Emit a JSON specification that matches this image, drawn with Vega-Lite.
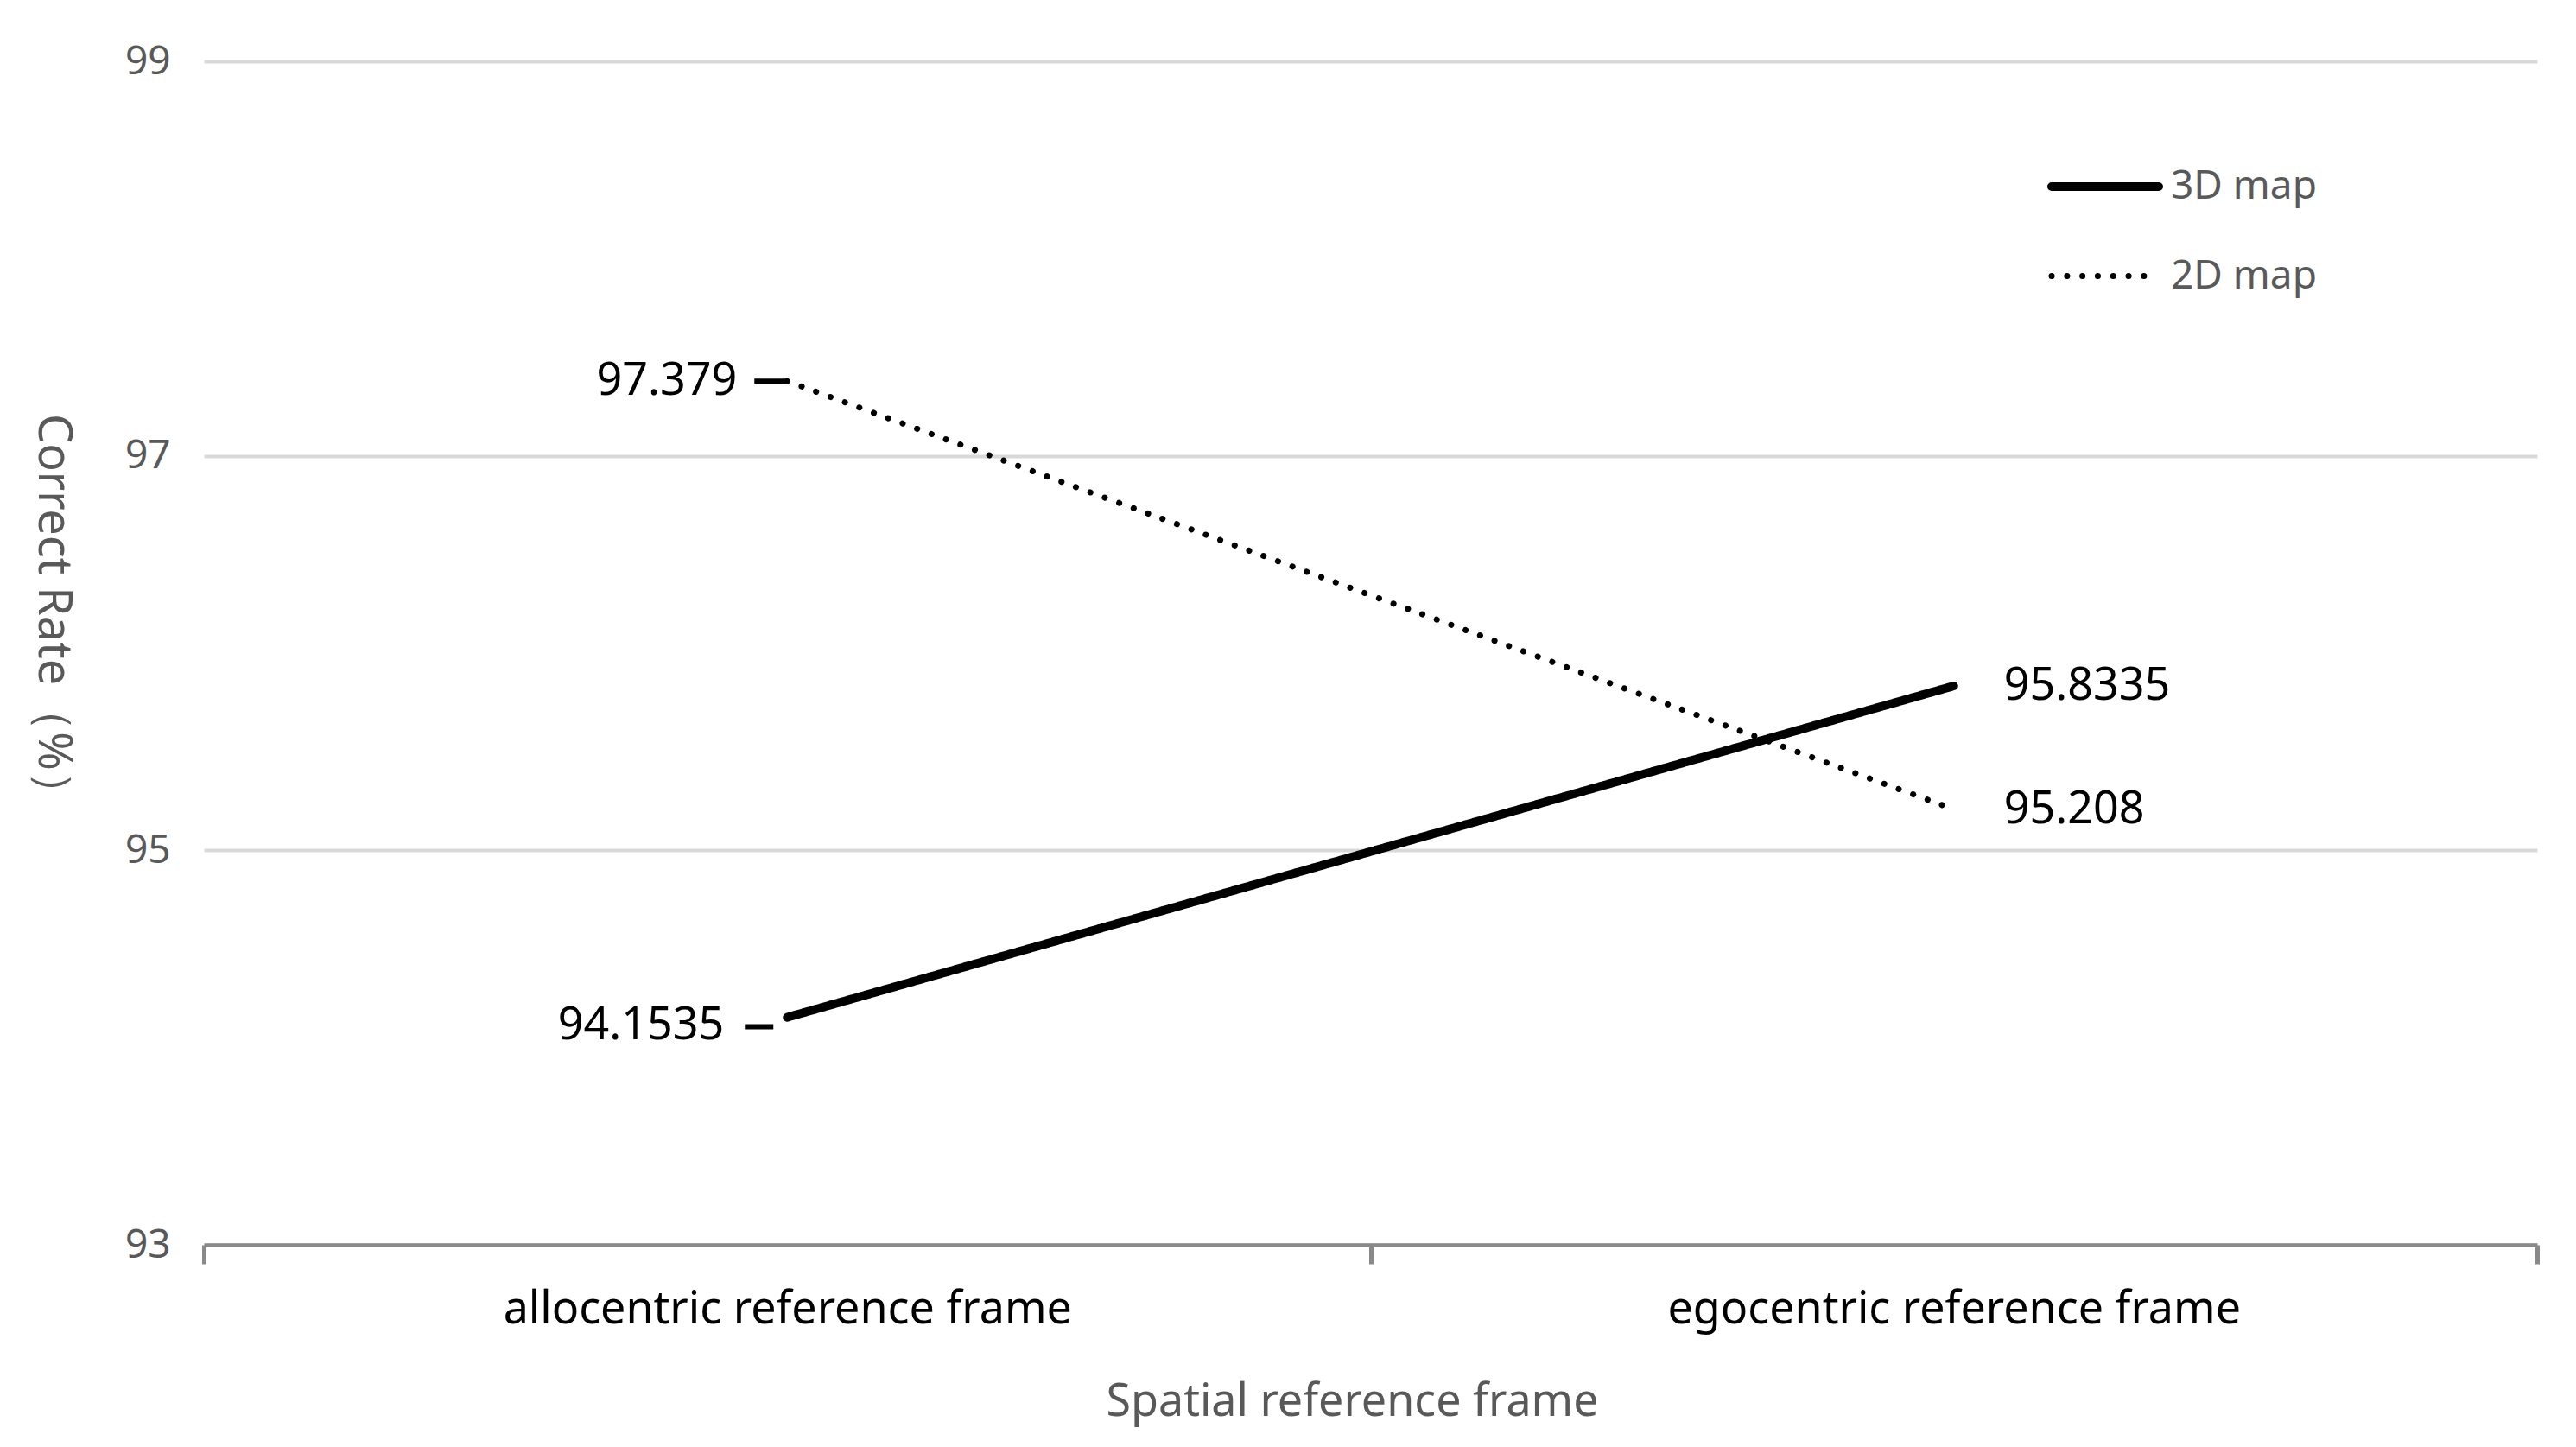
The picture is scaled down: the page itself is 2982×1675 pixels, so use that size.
{
  "$schema": "https://vega.github.io/schema/vega-lite/v6.json",
  "autosize": {"type": "none"},
  "width": 2701,
  "height": 1370,
  "padding": {"left": 236, "top": 71, "right": 45, "bottom": 234},
  "background": "white",
  "config": {
    "font": "Noto Sans",
    "view": {"stroke": null}
  },
  "data": {
    "values": [
      {"frame": "allocentric reference frame", "map": "3D map", "rate": 94.1535},
      {"frame": "egocentric reference frame", "map": "3D map", "rate": 95.8335},
      {"frame": "allocentric reference frame", "map": "2D map", "rate": 97.379},
      {"frame": "egocentric reference frame", "map": "2D map", "rate": 95.208}
    ]
  },
  "encoding": {
    "x": {
      "field": "frame",
      "type": "nominal",
      "sort": ["allocentric reference frame", "egocentric reference frame"],
      "scale": {"type": "band", "paddingInner": 0, "paddingOuter": 0},
      "axis": {
        "title": "Spatial reference frame",
        "labelAngle": 0,
        "labelLimit": 0,
        "tickBand": "extent",
        "tickSize": 22,
        "tickWidth": 5,
        "tickColor": "#898989",
        "domainColor": "#898989",
        "domainWidth": 4.5,
        "labelColor": "#000000",
        "labelFontSize": 52,
        "labelPadding": 27,
        "labelBaseline": "top",
        "grid": false,
        "titleColor": "#595959",
        "titleFontSize": 52,
        "titleFontWeight": "normal",
        "titleX": 1329,
        "titleY": 181,
        "titleAlign": "center",
        "titleBaseline": "middle"
      }
    },
    "y": {
      "field": "rate",
      "type": "quantitative",
      "scale": {"domain": [93, 99], "nice": false, "zero": false},
      "axis": {
        "title": "Correct Rate（%）",
        "values": [93, 95, 97, 99],
        "grid": true,
        "gridColor": "#d9d9d9",
        "gridWidth": 4,
        "domain": false,
        "ticks": false,
        "tickSize": 0,
        "labelPadding": 39,
        "labelFontSize": 46,
        "labelColor": "#595959",
        "titleAngle": 90,
        "titleX": -176,
        "titleY": 641,
        "titleAlign": "center",
        "titleBaseline": "middle",
        "titleColor": "#595959",
        "titleFontSize": 54,
        "titleFontWeight": "normal",
        "titleLimit": 0
      }
    }
  },
  "layer": [
    {
      "mark": {"type": "line", "color": "#000000", "strokeCap": "round"},
      "encoding": {
        "strokeDash": {
          "field": "map",
          "type": "nominal",
          "scale": {"domain": ["3D map", "2D map"], "range": [[1, 0], [0.1, 17.7]]},
          "legend": {
            "title": null,
            "orient": "none",
            "legendX": 2134,
            "legendY": 78,
            "symbolType": "stroke",
            "symbolSize": 15376,
            "symbolStrokeWidth": 12,
            "symbolStrokeColor": "#000000",
            "rowPadding": 15,
            "labelOffset": 9,
            "labelLimit": 0,
            "labelFontSize": 46,
            "labelColor": "#595959",
            "encode": {
              "symbols": {
                "update": {
                  "strokeCap": {"value": "round"},
                  "strokeDash": {"signal": "datum.value === '2D map' ? [0.1, 26.5] : [1, 0]"}
                }
              }
            }
          }
        },
        "strokeWidth": {
          "field": "map",
          "type": "nominal",
          "scale": {"domain": ["3D map", "2D map"], "range": [10, 7]},
          "legend": null
        }
      }
    },
    {
      "transform": [{"filter": "datum.frame === 'egocentric reference frame'"}],
      "mark": {"type": "text", "align": "left", "baseline": "middle", "dx": 58, "fontSize": 52, "color": "#000000"},
      "encoding": {"text": {"field": "rate", "type": "nominal"}}
    },
    {
      "transform": [{"filter": "datum.frame === 'allocentric reference frame' && datum.map === '2D map'"}],
      "mark": {"type": "text", "align": "right", "baseline": "middle", "dx": -58, "fontSize": 52, "color": "#000000"},
      "encoding": {"text": {"field": "rate", "type": "nominal"}}
    },
    {
      "transform": [{"filter": "datum.frame === 'allocentric reference frame' && datum.map === '3D map'"}],
      "mark": {"type": "text", "align": "right", "baseline": "middle", "dx": -73, "dy": 9, "fontSize": 52, "color": "#000000"},
      "encoding": {"text": {"field": "rate", "type": "nominal"}}
    },
    {
      "transform": [{"filter": "datum.frame === 'allocentric reference frame' && datum.map === '2D map'"}],
      "mark": {"type": "rule", "color": "#000000", "strokeWidth": 6, "xOffset": -38, "x2Offset": -2},
      "encoding": {"x2": {"field": "frame"}}
    },
    {
      "transform": [{"filter": "datum.frame === 'allocentric reference frame' && datum.map === '3D map'"}],
      "mark": {"type": "rule", "color": "#000000", "strokeWidth": 6, "xOffset": -49, "x2Offset": -16, "yOffset": 11},
      "encoding": {"x2": {"field": "frame"}}
    }
  ]
}
